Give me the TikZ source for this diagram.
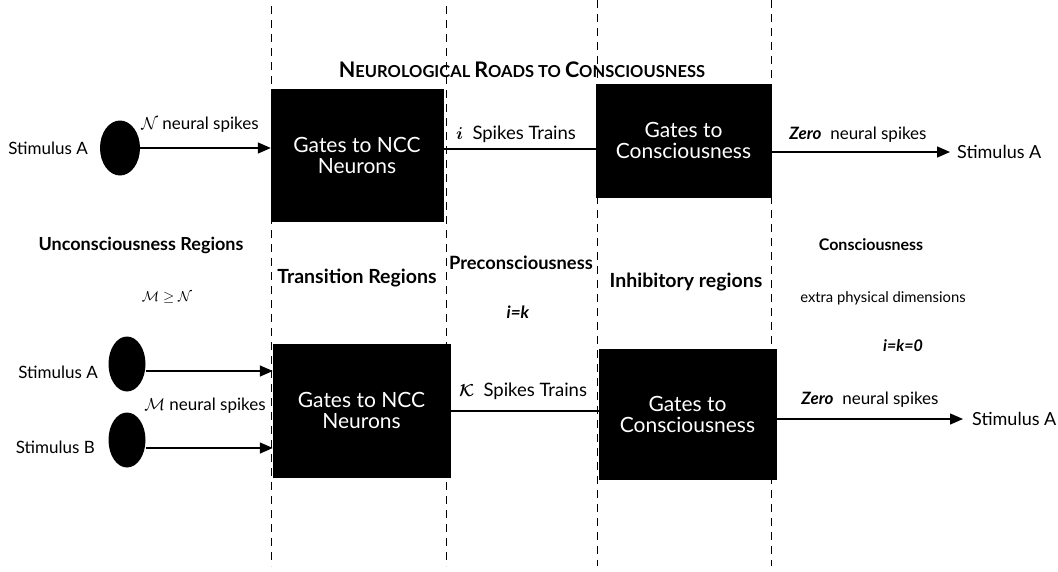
\documentclass[tikz,border=0pt]{standalone}
\usepackage{fontspec}
\usepackage{amsmath,amssymb}
\setmainfont{Lato}
\usetikzlibrary{arrows.meta,shapes.geometric}
\newcommand{\fsz}[1]{\fontsize{#1}{#1}\selectfont}
\begin{document}
\begin{tikzpicture}[x=1pt,y=-1pt,
  gate/.style={fill=black,draw=black,text=white,align=center,font=\fsz{21}},
  neuron/.style={ellipse,fill=black,inner sep=0pt},
  lbl/.style={font=\fsz{17},inner sep=1pt},
  head/.style={inner sep=1pt},
  sep/.style={dash pattern=on 8pt off 6pt,line width=1pt},
  conn/.style={line width=1.4pt},
  arr/.style={line width=1.4pt,-{Triangle[length=13pt,width=11pt]}}]
\useasboundingbox (0,0) rectangle (1058,571);
% dashed separators
\draw[sep] (271,6) coordinate (ta) -- (271,566) coordinate (ba);
\draw[sep] (446,6) coordinate (tb) -- (446,566) coordinate (bb);
\draw[sep] (597,0) coordinate (tc) -- (597,566) coordinate (bc);
\draw[sep] (771,0) coordinate (td) -- (771,566) coordinate (bd);
% title
\node[font=\bfseries,inner sep=0pt] (title) at (522,70) {\fsz{21.5}N\fsz{16.5}EUROLOGICAL \fsz{21.5}R\fsz{16.5}OADS TO \fsz{21.5}C\fsz{16.5}ONSCIOUSNESS};
% top row
\node[gate,minimum width=172pt,minimum height=132pt] (g1) at (357,155) {Gates to NCC\\Neurons};
\node[gate,minimum width=175pt,minimum height=113pt] (g2) at (683.5,140.5) {Gates to\\Consciousness};
\node[neuron,minimum width=40pt,minimum height=55pt] (n1) at (120,148) {};
\node[lbl,anchor=east] (s1) at (89,148) {Stimulus A};
\draw[arr] (n1.east) -- (g1.west |- n1.east);
\node[lbl] (l1) at (200,125) {$\mathcal{N}$ neural spikes};
\draw[conn] (g1.east |- 0,149) -- (g2.west |- 0,149);
\node[lbl,font=\fsz{18.5}] (l2) at (516,134) {$\boldsymbol{i}$\ \ Spikes Trains};
\coordinate (e1) at (950,152);
\draw[arr] (g2.east |- e1) -- (e1);
\node[lbl,anchor=west,font=\fsz{18}] (s2) at (956,152) {Stimulus A};
\node[lbl] (l3) at (858,135) {\textbf{\textit{Zero}}\ \ neural spikes};
% middle labels
\node[head,font=\fsz{18}\bfseries] (h1) at (141,245) {Unconsciousness Regions};
\node[lbl,font=\fsz{15.5}] (h1m) at (167,298) {$\mathcal{M} \geq \mathcal{N}$};
\node[head,font=\fsz{19.5}\bfseries] (h2) at (357,278) {Transition Regions};
\node[head,font=\fsz{18.3}\bfseries] (h3) at (521,263) {Preconsciousness};
\node[lbl,font=\fsz{17}] (h3m) at (518,312) {\textbf{\textit{i=k}}};
\node[head,font=\fsz{19.5}\bfseries] (h4) at (686,282) {Inhibitory regions};
\node[head,font=\fsz{16}\bfseries] (h5) at (871,245) {Consciousness};
\node[lbl,font=\fsz{14.8}] (h5a) at (883,298) {extra physical dimensions};
\node[lbl,font=\fsz{16}] (h5m) at (903,346) {\textbf{\textit{i=k=0}}};
% bottom row
\node[gate,minimum width=177pt,minimum height=133pt] (g3) at (361.5,410.5) {Gates to NCC\\Neurons};
\node[gate,minimum width=177pt,minimum height=130pt] (g4) at (687.5,414) {Gates to\\Consciousness};
\node[neuron,minimum width=37pt,minimum height=55pt] (n2) at (127,364) {};
\node[neuron,minimum width=37pt,minimum height=55pt] (n3) at (127,440) {};
\node[lbl,anchor=east] (s3) at (99,372) {Stimulus A};
\node[lbl,anchor=east] (s4) at (96,447) {Stimulus B};
\draw[arr] (n2.east |- 0,371) -- (g3.west |- 0,371);
\draw[arr] (n3.east |- 0,448) -- (g3.west |- 0,448);
\node[lbl] (l4) at (205,406) {$\mathcal{M}$ neural spikes};
\draw[conn] (g3.east |- 0,411) -- (g4.west |- 0,411);
\node[lbl,font=\fsz{18.5}] (l5) at (523,391) {$\boldsymbol{\mathcal{K}}$\ \ Spikes Trains};
\coordinate (e2) at (963,419);
\draw[arr] (g4.east |- e2) -- (e2);
\node[lbl,anchor=west,font=\fsz{18}] (s5) at (971,419) {Stimulus A};
\node[lbl] (l6) at (870,400) {\textbf{\textit{Zero}}\ \ neural spikes};
\end{tikzpicture}
\end{document}
